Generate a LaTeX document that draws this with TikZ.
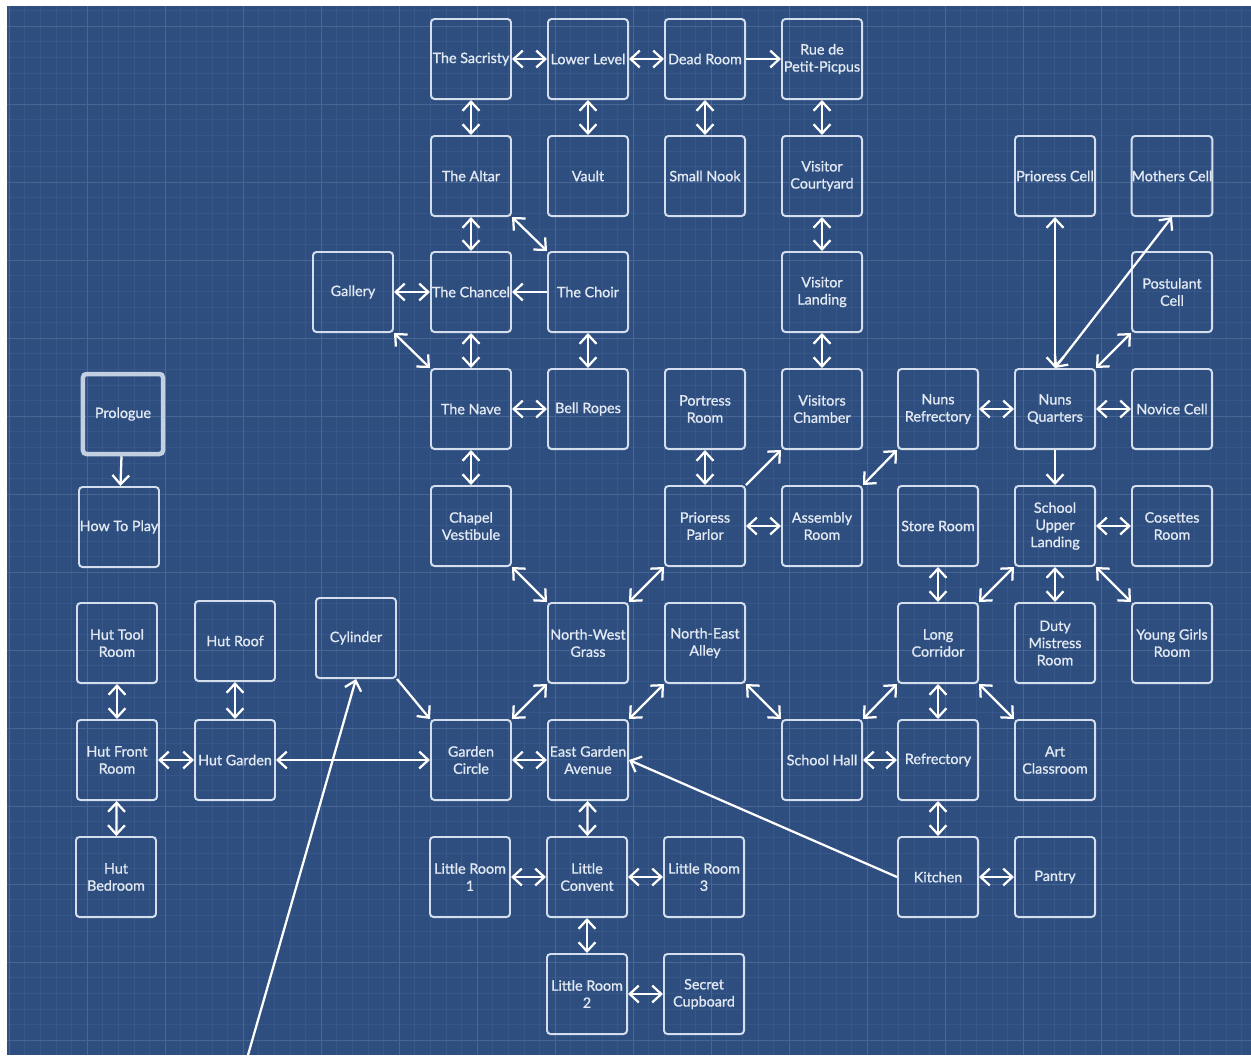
\documentclass[tikz,border=0pt]{standalone}
\usepackage{fontspec}
\setmainfont{Lato}[FakeBold=1]
\usetikzlibrary{arrows.meta}

\definecolor{paper}{RGB}{46,78,127}
\definecolor{minorline}{RGB}{55,87,136}
\definecolor{majorline}{RGB}{72,102,148}
\definecolor{boxline}{RGB}{212,222,236}
\definecolor{roomtext}{RGB}{226,233,243}

\begin{document}
\begin{tikzpicture}[x=0.025cm, y=-0.025cm,
  room/.style={draw=boxline, line width=1.4pt, rounded corners=2.5pt,
    minimum width=2cm, minimum height=2cm, inner sep=0pt, align=center,
    text=roomtext, font=\fontsize{10.2}{12.2}\selectfont},
  startroom/.style={room, line width=3.2pt, draw=boxline!90!paper},
  link/.style={draw=white, line width=1.6pt,
    {Straight Barb[length=6.5pt,width=12pt]}-{Straight Barb[length=6.5pt,width=12pt]}},
  oneway/.style={draw=white, line width=1.6pt, -{Straight Barb[length=6.5pt,width=12pt]}}]

  % ---- blueprint sheet ----
  \useasboundingbox (0,0) rectangle (1251,1055);
  \fill[white] (0,0) rectangle (1251,1055);
  \fill[paper] (7,6) rectangle (1251,1055);
  \foreach \k in {0,...,79}
    \draw[minorline, line width=0.3pt] ({9+15.6*\k},6) -- ({9+15.6*\k},1055);
  \foreach \k in {0,...,66}
    \draw[minorline, line width=0.3pt] (7,{10.4+15.6*\k}) -- (1251,{10.4+15.6*\k});
  \foreach \k in {0,...,15}
    \draw[majorline, line width=0.5pt] ({9+78*\k},6) -- ({9+78*\k},1055);
  \foreach \k in {0,...,13}
    \draw[majorline, line width=0.5pt] (7,{26+78*\k}) -- (1251,{26+78*\k});

  % ---- chapel and upper floors ----
  \node[room] (sacristy)   at (471,59)  {The Sacristy};
  \node[room] (lowerlevel) at (588,59)  {Lower Level};
  \node[room] (deadroom)   at (705,59)  {Dead Room};
  \node[room] (rue)        at (822,59)  {Rue de\\Petit-Picpus};
  \node[room] (altar)      at (471,176) {The Altar};
  \node[room] (vault)      at (588,176) {Vault};
  \node[room] (nook)       at (705,176) {Small Nook};
  \node[room] (vcourtyard) at (822,176) {Visitor\\Courtyard};
  \node[room] (gallery)    at (353,292) {Gallery};
  \node[room] (chancel)    at (471,292) {The Chancel};
  \node[room] (choir)      at (588,292) {The Choir};
  \node[room] (vlanding)   at (822,292) {Visitor\\Landing};
  \node[room] (nave)       at (471,409) {The Nave};
  \node[room] (bellropes)  at (588,409) {Bell Ropes};
  \node[room] (vestibule)  at (471,526) {Chapel\\Vestibule};

  % ---- parlor and nuns quarters ----
  \node[room] (portress)    at (705,409)  {Portress\\Room};
  \node[room] (vchamber)    at (822,409)  {Visitors\\Chamber};
  \node[room] (nunsref)     at (938,409)  {Nuns\\Refrectory};
  \node[room] (nunsq)       at (1055,409) {Nuns\\Quarters};
  \node[room] (novice)      at (1172,409) {Novice Cell};
  \node[room] (priorcell)   at (1055,176) {Prioress Cell};
  \node[room] (motherscell) at (1172,176) {Mothers Cell};
  \node[room] (postulant)   at (1172,292) {Postulant\\Cell};
  \node[room] (parlor)      at (705,526)  {Prioress\\Parlor};
  \node[room] (assembly)    at (822,526)  {Assembly\\Room};

  % ---- school ----
  \node[room] (storeroom)    at (938,526)  {Store Room};
  \node[room] (upperlanding) at (1055,526) {School\\Upper\\Landing};
  \node[room] (cosette)      at (1172,526) {Cosettes\\Room};
  \node[room] (corridor)     at (938,643)  {Long\\Corridor};
  \node[room] (dutyroom)     at (1055,643) {Duty\\Mistress\\Room};
  \node[room] (younggirls)   at (1172,643) {Young Girls\\Room};
  \node[room] (schoolhall)   at (822,760)  {School Hall};
  \node[room] (refrectory)   at (938,760)  {Refrectory};
  \node[room] (artroom)      at (1055,760) {Art\\Classroom};
  \node[room] (kitchen)      at (938,877)  {Kitchen};
  \node[room] (pantry)       at (1055,877) {Pantry};

  % ---- gardens and little convent ----
  \node[room] (nwgrass)   at (588,643) {North-West\\Grass};
  \node[room] (nealley)   at (705,643) {North-East\\Alley};
  \node[room] (gcircle)   at (471,760) {Garden\\Circle};
  \node[room] (egavenue)  at (588,760) {East Garden\\Avenue};
  \node[room] (little1)   at (470,877) {Little Room\\1};
  \node[room] (convent)   at (587,877) {Little\\Convent};
  \node[room] (little3)   at (704,877) {Little Room\\3};
  \node[room] (little2)   at (587,994) {Little Room\\2};
  \node[room] (cupboard)  at (704,994) {Secret\\Cupboard};

  % ---- hut and start ----
  \node[startroom] (prologue) at (123,414) {Prologue};
  \node[room] (howto)      at (119,527) {How To Play};
  \node[room] (toolroom)   at (117,643) {Hut Tool\\Room};
  \node[room] (hutroof)    at (235,641) {Hut Roof};
  \node[room] (cylinder)   at (356,638) {Cylinder};
  \node[room] (frontroom)  at (117,760) {Hut Front\\Room};
  \node[room] (hutgarden)  at (235,760) {Hut Garden};
  \node[room] (bedroom)    at (116,877) {Hut\\Bedroom};
  \coordinate (offsheet) at (248,1055);

  % ---- connections ----
  \draw[link] (sacristy) -- (lowerlevel);
  \draw[link] (lowerlevel) -- (deadroom);
  \draw[oneway] (deadroom) -- (rue);
  \draw[link] (sacristy) -- (altar);
  \draw[link] (lowerlevel) -- (vault);
  \draw[link] (deadroom) -- (nook);
  \draw[link] (rue) -- (vcourtyard);
  \draw[link] (altar) -- (chancel);
  \draw[link] (altar.south east) -- (choir.north west);
  \draw[link] (gallery) -- (chancel);
  \draw[oneway] (choir) -- (chancel);
  \draw[link] (chancel) -- (nave);
  \draw[link] (gallery.south east) -- (nave.north west);
  \draw[link] (choir) -- (bellropes);
  \draw[link] (vcourtyard) -- (vlanding);
  \draw[link] (vlanding) -- (vchamber);
  \draw[link] (nave) -- (bellropes);
  \draw[link] (nave) -- (vestibule);
  \draw[oneway] (prologue) -- (howto);
  \draw[link] (portress) -- (parlor);
  \draw[oneway] (parlor.north east) -- (vchamber.south west);
  \draw[link] (parlor) -- (assembly);
  \draw[link] (assembly.north east) -- (nunsref.south west);
  \draw[link] (nunsref) -- (nunsq);
  \draw[link] (nunsq) -- (priorcell);
  \draw[link] (nunsq.north) -- (motherscell.south);
  \draw[link] (nunsq.north east) -- (postulant.south west);
  \draw[link] (nunsq) -- (novice);
  \draw[oneway] (nunsq) -- (upperlanding);
  \draw[link] (vestibule.south east) -- (nwgrass.north west);
  \draw[link] (parlor.south west) -- (nwgrass.north east);
  \draw[link] (upperlanding) -- (cosette);
  \draw[link] (storeroom) -- (corridor);
  \draw[link] (upperlanding.south west) -- (corridor.north east);
  \draw[link] (upperlanding) -- (dutyroom);
  \draw[link] (upperlanding.south east) -- (younggirls.north west);
  \draw[link] (toolroom) -- (frontroom);
  \draw[link] (hutroof) -- (hutgarden);
  \draw[oneway] (cylinder.south east) -- (gcircle.north west);
  \draw[oneway] (offsheet) -- (cylinder.south);
  \draw[link] (nwgrass.south west) -- (gcircle.north east);
  \draw[link] (nealley.south west) -- (egavenue.north east);
  \draw[link] (nealley.south east) -- (schoolhall.north west);
  \draw[link] (corridor.south west) -- (schoolhall.north east);
  \draw[link] (corridor) -- (refrectory);
  \draw[link] (corridor.south east) -- (artroom.north west);
  \draw[link] (frontroom) -- (hutgarden);
  \draw[link] (hutgarden) -- (gcircle);
  \draw[link] (gcircle) -- (egavenue);
  \draw[link] (schoolhall) -- (refrectory);
  \draw[link] (frontroom) -- (bedroom);
  \draw[link] (egavenue) -- (convent);
  \draw[oneway] (kitchen.west) -- (egavenue.east);
  \draw[link] (refrectory) -- (kitchen);
  \draw[link] (kitchen) -- (pantry);
  \draw[link] (little1) -- (convent);
  \draw[link] (convent) -- (little3);
  \draw[link] (convent) -- (little2);
  \draw[link] (little2) -- (cupboard);

\end{tikzpicture}
\end{document}
